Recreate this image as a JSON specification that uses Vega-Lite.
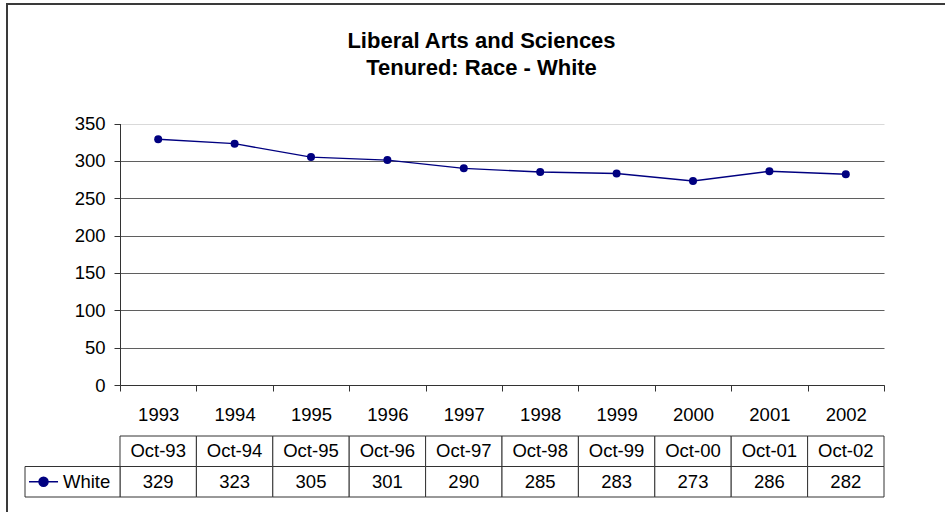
{
  "$schema": "https://vega.github.io/schema/vega-lite/v6.json",
  "autosize": "none",
  "width": 1000,
  "height": 560,
  "padding": {"left": 7, "top": 4, "right": -62, "bottom": -52},
  "background": "white",
  "view": {"stroke": "#3a3a3a", "strokeWidth": 2, "fill": "white"},
  "config": {"font": "Liberation Sans"},
  "title": {
    "text": ["Liberal Arts and Sciences", "Tenured: Race - White"],
    "fontSize": 22,
    "fontWeight": "bold",
    "color": "#000000",
    "lineHeight": 27,
    "anchor": "middle",
    "frame": "group",
    "offset": -76,
    "dx": -25.5
  },
  "data": {
    "values": [
      {"year": 1993, "month": "Oct-93", "series": "White", "value": 329},
      {"year": 1994, "month": "Oct-94", "series": "White", "value": 323},
      {"year": 1995, "month": "Oct-95", "series": "White", "value": 305},
      {"year": 1996, "month": "Oct-96", "series": "White", "value": 301},
      {"year": 1997, "month": "Oct-97", "series": "White", "value": 290},
      {"year": 1998, "month": "Oct-98", "series": "White", "value": 285},
      {"year": 1999, "month": "Oct-99", "series": "White", "value": 283},
      {"year": 2000, "month": "Oct-00", "series": "White", "value": 273},
      {"year": 2001, "month": "Oct-01", "series": "White", "value": 286},
      {"year": 2002, "month": "Oct-02", "series": "White", "value": 282}
    ]
  },
  "layer": [
    {
      "mark": {
        "type": "line",
        "color": "#000080",
        "strokeWidth": 1.4,
        "point": {"filled": true, "size": 64, "color": "#000080"}
      },
      "encoding": {
        "x": {
          "field": "year",
          "type": "ordinal",
          "scale": {"range": [113, 877], "paddingInner": 0, "paddingOuter": 0},
          "axis": {
            "orient": "bottom",
            "offset": -179,
            "title": null,
            "tickBand": "extent",
            "tickSize": 6,
            "tickColor": "#333333",
            "domainColor": "#333333",
            "labelFontSize": 18.5,
            "labelColor": "#000000",
            "labelPadding": 14,
            "labelAngle": 0,
            "grid": false
          }
        },
        "y": {
          "field": "value",
          "type": "quantitative",
          "scale": {"domain": [0, 350], "range": [381, 119.5], "nice": false},
          "axis": {
            "orient": "left",
            "offset": -113,
            "title": null,
            "values": [0, 50, 100, 150, 200, 250, 300, 350],
            "grid": true,
            "gridColor": {"condition": {"test": "datum.value === 350", "value": "#d9d9d9"}, "value": "#5f5f5f"},
            "gridWidth": 1,
            "tickSize": 6,
            "tickColor": "#333333",
            "domainColor": "#333333",
            "labelPadding": 9,
            "labelFontSize": 18.5,
            "labelColor": "#000000"
          }
        }
      }
    },
    {
      "transform": [{"fold": ["month", "value"], "as": ["row", "cell"]}],
      "encoding": {
        "x": {
          "field": "year",
          "type": "ordinal",
          "scale": {"range": [113, 877], "paddingInner": 0, "paddingOuter": 0},
          "axis": null
        },
        "y": {
          "field": "row",
          "type": "nominal",
          "scale": {"domain": ["month", "value"], "range": [432, 493], "paddingInner": 0, "paddingOuter": 0},
          "axis": null
        }
      },
      "layer": [
        {"mark": {"type": "rect", "fill": "#ffffff", "stroke": "#333333", "strokeWidth": 1}},
        {
          "mark": {"type": "text", "fontSize": 18.5, "color": "#000000", "baseline": "middle"},
          "encoding": {"text": {"field": "cell", "type": "nominal"}}
        }
      ]
    },
    {
      "transform": [{"aggregate": [{"op": "count", "as": "n"}], "groupby": ["series"]}],
      "encoding": {
        "y": {
          "datum": "value",
          "type": "nominal",
          "scale": {"domain": ["month", "value"], "range": [432, 493], "paddingInner": 0, "paddingOuter": 0},
          "axis": null
        }
      },
      "layer": [
        {
          "mark": {"type": "rect", "fill": "#ffffff", "stroke": "#333333", "strokeWidth": 1},
          "encoding": {
            "x": {"field": "series", "type": "nominal", "scale": {"domain": ["White"], "range": [18, 113], "paddingInner": 0, "paddingOuter": 0}, "axis": null}
          }
        },
        {
          "mark": {
            "type": "point",
            "shape": "M-1,0L1,0M0.31,0A0.31,0.31,0,1,1,-0.31,0A0.31,0.31,0,1,1,0.31,0Z",
            "size": 841,
            "filled": true,
            "fill": "#000080",
            "stroke": "#000080",
            "strokeWidth": 1.5,
            "opacity": 1
          },
          "encoding": {
            "x": {"field": "series", "type": "nominal", "bandPosition": 0.195, "scale": {"domain": ["White"], "range": [18, 113], "paddingInner": 0, "paddingOuter": 0}, "axis": null}
          }
        },
        {
          "mark": {"type": "text", "align": "left", "baseline": "middle", "fontSize": 18.5, "color": "#000000"},
          "encoding": {
            "x": {"field": "series", "type": "nominal", "bandPosition": 0.4, "scale": {"domain": ["White"], "range": [18, 113], "paddingInner": 0, "paddingOuter": 0}, "axis": null},
            "text": {"field": "series", "type": "nominal"}
          }
        }
      ]
    }
  ],
  "resolve": {"scale": {"x": "independent", "y": "independent"}}
}
